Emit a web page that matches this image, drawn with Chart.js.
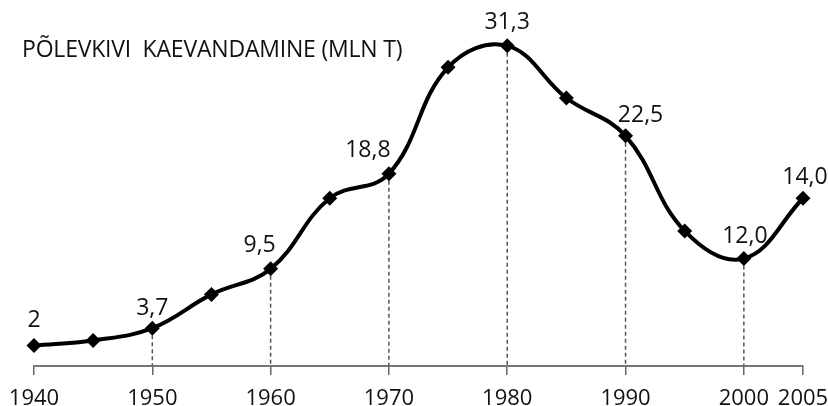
<!DOCTYPE html>
<html>
<head>
<meta charset="utf-8">
<script src="https://cdn.jsdelivr.net/npm/chart.js@4.4.1/dist/chart.umd.min.js"></script>
<style>
  html, body { margin: 0; padding: 0; background: #fff; }
  #wrap { position: relative; width: 828px; height: 406px; }
  #title {
    position: absolute; left: 22px; top: 37px;
    font-family: 'Open Sans', sans-serif; font-size: 23px; line-height: 1;
    color: #111; white-space: pre; letter-spacing: -0.2px;
  }
</style>
</head>
<body>
<div id="wrap">
  <canvas id="chart" width="828" height="406"></canvas>
  <div id="title">PÕLEVKIVI  KAEVANDAMINE (MLN T)</div>
</div>
<script>
// oil shale mining, million tonnes
const years = [1940, 1945, 1950, 1955, 1960, 1965, 1970, 1975, 1980, 1985, 1990, 1995, 2000, 2005];
const production = [2.0, 2.5, 3.7, 7.0, 9.5, 16.4, 18.8, 29.2, 31.3, 26.2, 22.5, 13.2, 10.5, 16.4];
const pointLabels = ['2', null, '3,7', null, '9,5', null, '18,8', null, '31,3', null, '22,5', null, '12,0', '14,0'];
const tickYears = [1940, 1950, 1960, 1970, 1980, 1990, 2000, 2005];
const dropYears = [1950, 1960, 1970, 1980, 1990, 2000];

// label offsets from the point (px)
const labelOffsets = [[0, -25], null, [0, -20], null, [-11, -23], null, [-21, -23], null,
  [0, -23], null, [15, -20], null, [1, -22], [2, -21]];

const font = "'Open Sans', sans-serif";

const dropLines = {
  id: 'dropLines',
  beforeDatasetsDraw(chart) {
    const { ctx, scales: { x, y } } = chart;
    ctx.save();
    ctx.strokeStyle = '#555';
    ctx.lineWidth = 1.5;
    ctx.setLineDash([4, 3]);
    dropYears.forEach(yr => {
      const i = years.indexOf(yr);
      const px = x.getPixelForValue(yr);
      ctx.beginPath();
      ctx.moveTo(px, y.getPixelForValue(production[i]));
      ctx.lineTo(px, y.getPixelForValue(0));
      ctx.stroke();
    });
    ctx.restore();
  }
};

const valueLabels = {
  id: 'valueLabels',
  afterDatasetsDraw(chart) {
    const { ctx } = chart;
    const meta = chart.getDatasetMeta(0);
    ctx.save();
    ctx.font = '23px ' + font;
    ctx.fillStyle = '#111';
    ctx.textAlign = 'center';
    ctx.textBaseline = 'middle';
    meta.data.forEach((pt, i) => {
      if (!pointLabels[i]) return;
      const [dx, dy] = labelOffsets[i];
      ctx.fillText(pointLabels[i], pt.x + dx, pt.y + dy);
    });
    ctx.restore();
  }
};

new Chart(document.getElementById('chart'), {
  type: 'line',
  data: {
    datasets: [{
      data: years.map((yr, i) => ({ x: yr, y: production[i] })),
      borderColor: '#000',
      borderWidth: 4,
      tension: 0.4,
      fill: false,
      pointStyle: 'rectRot',
      pointRadius: 7.5,
      pointBackgroundColor: '#000',
      pointBorderColor: '#000',
      pointBorderWidth: 0,
      clip: false
    }]
  },
  options: {
    responsive: false,
    animation: false,
    layout: { padding: { left: 34, right: 25, top: 8, bottom: 0 } },
    plugins: { legend: { display: false }, tooltip: { enabled: false } },
    scales: {
      x: {
        type: 'linear',
        min: 1940,
        max: 2005,
        afterBuildTicks: s => { s.ticks = tickYears.map(v => ({ value: v })); },
        afterFit: s => { s.paddingLeft = 0; s.paddingRight = 0; s.height = 40; },
        grid: { drawOnChartArea: false, drawTicks: true, tickLength: 9, color: '#666', lineWidth: 1.5 },
        border: { display: true, color: '#777', width: 2 },
        ticks: {
          autoSkip: false,
          maxRotation: 0,
          padding: 11,
          color: '#111',
          font: { family: font, size: 22 },
          callback: v => String(v)
        }
      },
      y: {
        display: false,
        min: 0,
        max: 35
      }
    }
  },
  plugins: [dropLines, valueLabels]
});
</script>
</body>
</html>
